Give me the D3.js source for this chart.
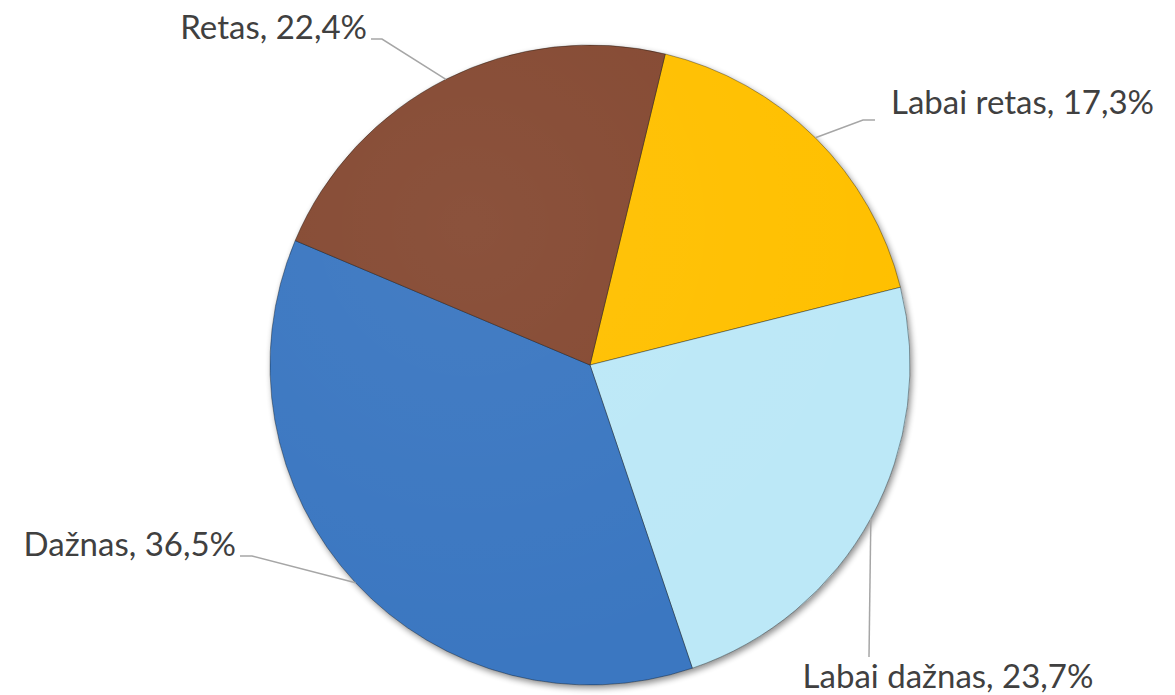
<!DOCTYPE html>
<html>
<head>
<meta charset="utf-8">
<script src="https://cdn.jsdelivr.net/npm/d3@7"></script>
<style>
  body { margin: 0; background: #fff; }
  text { font-family: Lato, "Noto Sans", sans-serif; fill: #404040; }
</style>
</head>
<body>
<svg id="chart" width="1175" height="695"></svg>
<script>
"use strict"

// data
const categories = ["Labai retas", "Labai dažnas", "Dažnas", "Retas"]
const shares = [17.3, 23.7, 36.5, 22.4]
const colors = ["#FFC000", "#BCE8F7", "#3A77C1", "#854A32"]

const width = 1175, height = 695
const cx = 590, cy = 365, radius = 320
const startAngle = 13.6 * Math.PI / 180

// where each label sits: elbow point, text point, anchor, end of the short horizontal bit
const labelPos = {
    "Retas":        {ex: 382, ey: 39,  tx: 367, ty: 39,  anchor: "end", end: 371},
    "Labai retas":  {ex: 863, ey: 120, tx: 891, ty: 114, anchor: "start", end: 875},
    "Dažnas":       {ex: 252, ey: 556, tx: 236, ty: 556, anchor: "end", end: 240},
    "Labai dažnas": {ex: 869, ey: 657, tx: 948, ty: 688, anchor: "middle", end: 869}
}

const data = categories.map((c, i) => ({name: c, value: shares[i], color: colors[i]}))

const svg = d3.select("#chart")
const defs = svg.append("defs")

// soft shadow under the pie
const shadow = defs.append("filter").attr("id", "shadow")
    .attr("x", "-10%").attr("y", "-10%").attr("width", "120%").attr("height", "120%")
shadow.append("feGaussianBlur").attr("in", "SourceAlpha").attr("stdDeviation", 3)
shadow.append("feOffset").attr("dx", 2).attr("dy", 3).attr("result", "blur")
shadow.append("feComponentTransfer").append("feFuncA").attr("type", "linear").attr("slope", 0.45)
const merge = shadow.append("feMerge")
merge.append("feMergeNode")
merge.append("feMergeNode").attr("in", "SourceGraphic")

// light sheen over the slices
const sheen = defs.append("radialGradient").attr("id", "sheen")
    .attr("gradientUnits", "userSpaceOnUse")
    .attr("cx", -120).attr("cy", -140).attr("r", radius * 1.4)
sheen.append("stop").attr("offset", "0%").attr("stop-color", "#fff").attr("stop-opacity", 0.05)
sheen.append("stop").attr("offset", "100%").attr("stop-color", "#fff").attr("stop-opacity", 0)

const pie = d3.pie()
    .sort(null)
    .value(d => d.value)
    .startAngle(startAngle)
    .endAngle(startAngle + 2 * Math.PI)

const arc = d3.arc().innerRadius(0).outerRadius(radius)
const arcs = pie(data)

const g = svg.append("g").attr("transform", "translate(" + cx + "," + cy + ")")

g.append("g").attr("filter", "url(#shadow)")
    .selectAll("path")
    .data(arcs)
    .enter().append("path")
    .attr("d", arc)
    .attr("fill", d => d.data.color)
    .attr("stroke", "rgba(0,0,0,0.35)")
    .attr("stroke-width", 1)

g.selectAll(".sheen")
    .data(arcs)
    .enter().append("path")
    .attr("class", "sheen")
    .attr("d", arc)
    .attr("fill", "url(#sheen)")

// leader lines, from the middle of each slice's outer edge
svg.append("g")
    .selectAll("polyline")
    .data(arcs)
    .enter().append("polyline")
    .attr("fill", "none")
    .attr("stroke", "#A6A6A6")
    .attr("stroke-width", 1.5)
    .attr("points", d => {
        let a = (d.startAngle + d.endAngle) / 2
        let p = labelPos[d.data.name]
        let px = cx + radius * Math.sin(a), py = cy - radius * Math.cos(a)
        let last = d.data.name === "Labai dažnas" ? [p.ex, p.ey] : [p.end, p.ey]
        return [[px, py], [p.ex, p.ey], last].join(" ")
    })

svg.append("g")
    .selectAll("text")
    .data(arcs)
    .enter().append("text")
    .attr("x", d => labelPos[d.data.name].tx)
    .attr("y", d => labelPos[d.data.name].ty)
    .attr("text-anchor", d => labelPos[d.data.name].anchor)
    .style("font-size", "33px")
    .text(d => d.data.name + ", " + d3.format(".1f")(d.data.value).replace(".", ",") + "%")
</script>
</body>
</html>
